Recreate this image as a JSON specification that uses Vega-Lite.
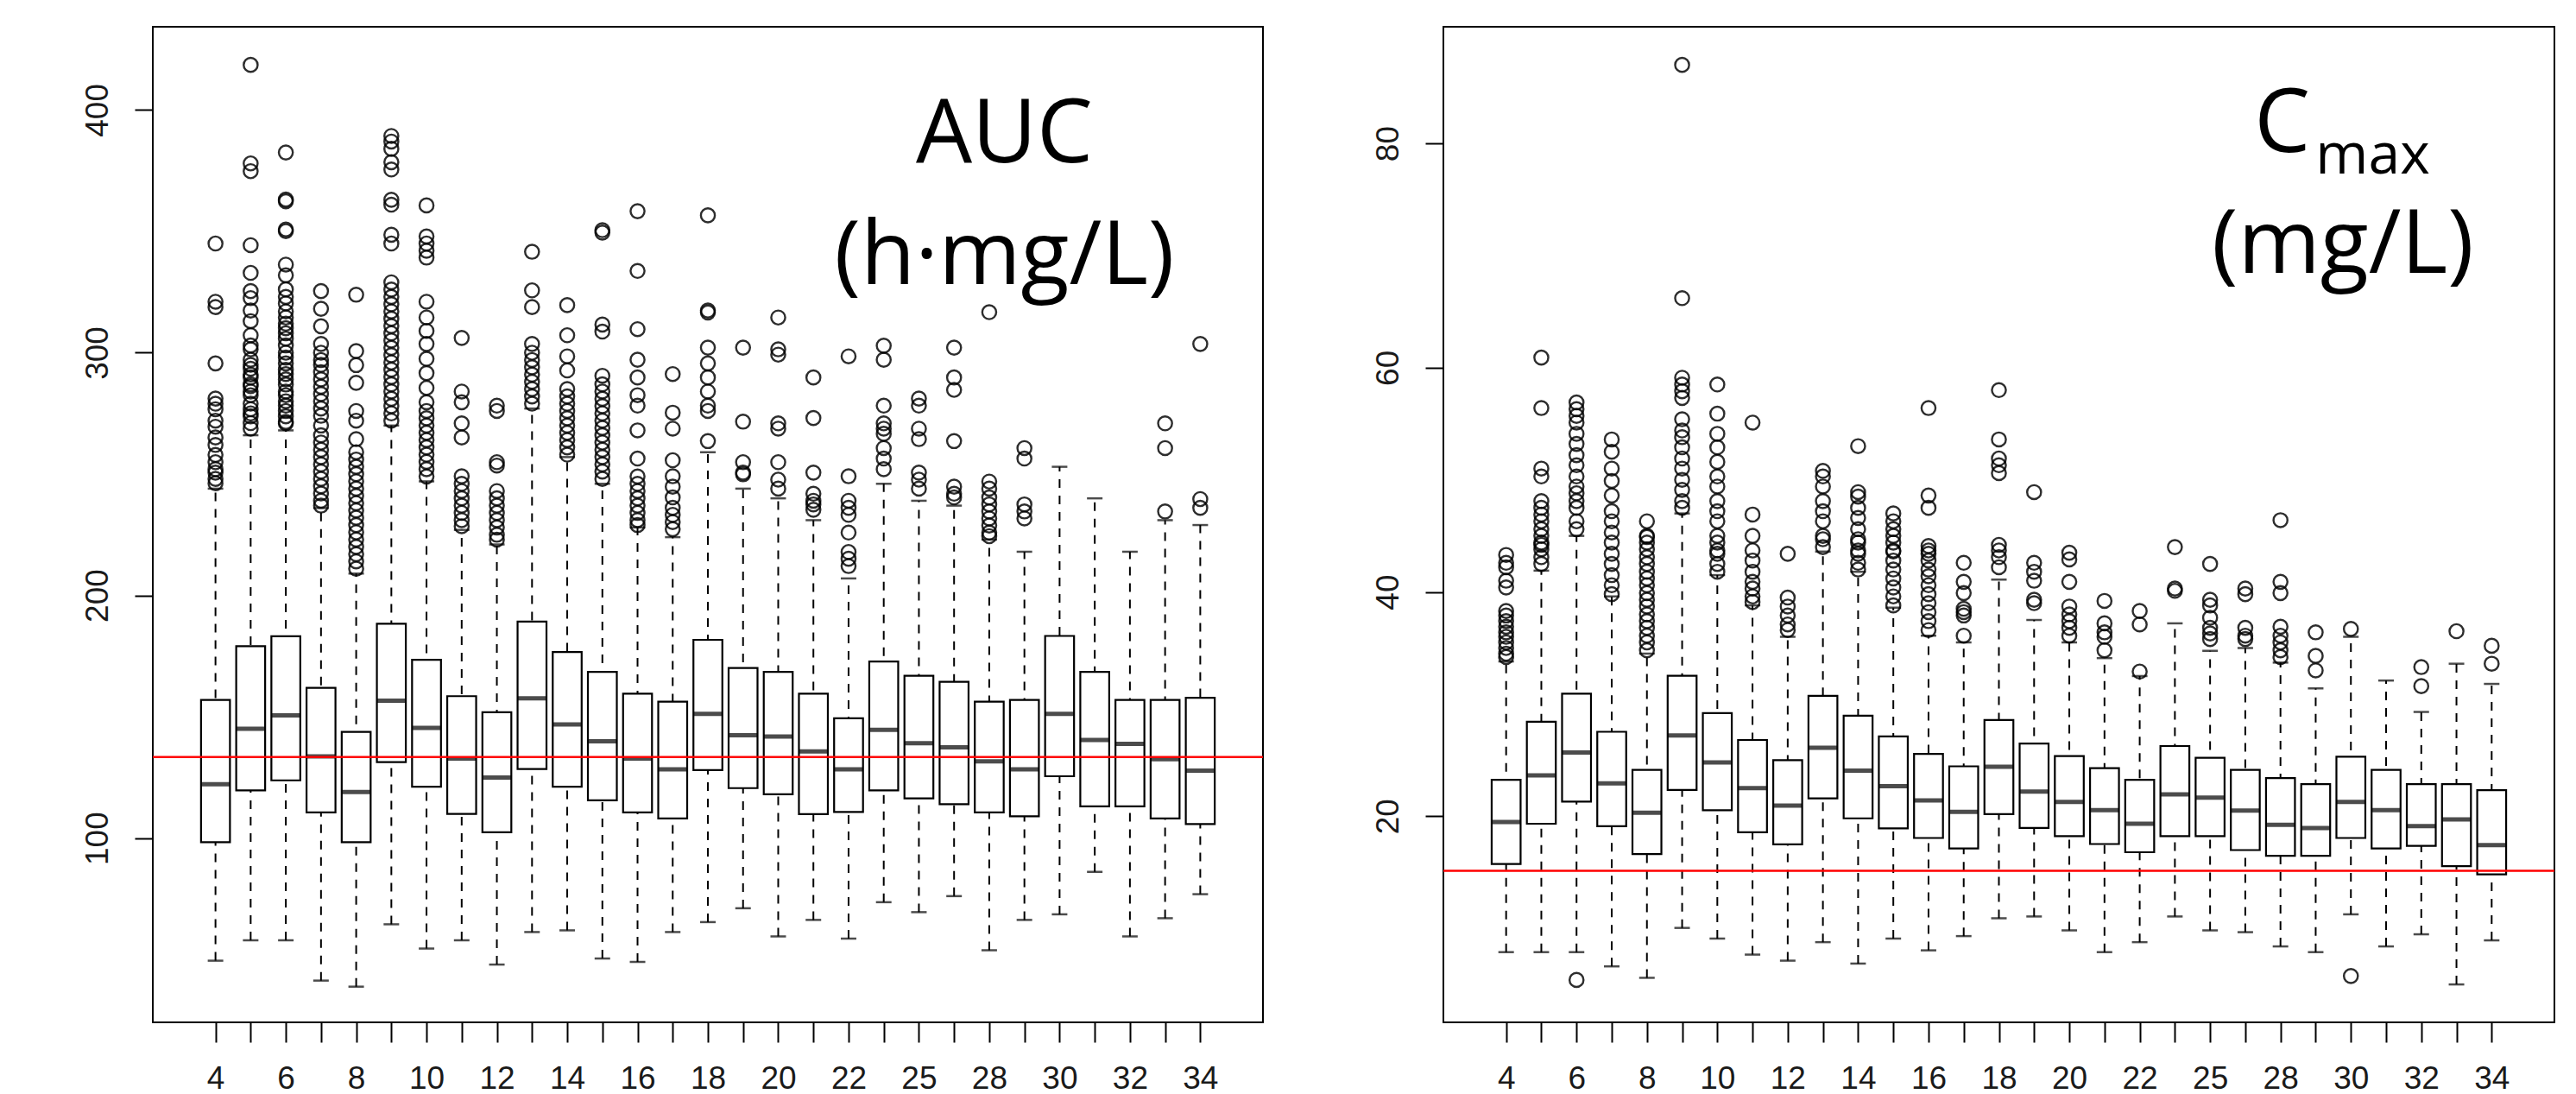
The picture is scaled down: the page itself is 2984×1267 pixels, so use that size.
{
  "$schema": "https://vega.github.io/schema/vega-lite/v6.json",
  "background": "white",
  "padding": {"left": 92, "top": 30, "right": 0, "bottom": 0},
  "bounds": "flush",
  "spacing": 209,
  "config": {
    "view": {"stroke": "black", "strokeWidth": 2},
    "axis": {"title": null, "grid": false, "domain": false, "tickColor": "black", "tickWidth": 2, "labelFont": "Liberation Sans", "labelFontSize": 37, "labelColor": "#1a1a1a"}
  },
  "datasets": {
    "auc_box": [
      {"i":1,"g":"4","lw":49.5,"q1":98.3,"med":122.2,"q3":156.9,"uw":244},
      {"i":2,"g":"5","lw":57.9,"q1":119.7,"med":145.1,"q3":179.1,"uw":266},
      {"i":3,"g":"6","lw":57.9,"q1":123.8,"med":150.6,"q3":183.2,"uw":268},
      {"i":4,"g":"7","lw":41.3,"q1":110.6,"med":133.7,"q3":161.9,"uw":236},
      {"i":5,"g":"8","lw":38.8,"q1":98.3,"med":119.0,"q3":143.8,"uw":209},
      {"i":6,"g":"9","lw":64.5,"q1":131.3,"med":156.6,"q3":188.3,"uw":270},
      {"i":7,"g":"10","lw":54.5,"q1":121.2,"med":145.4,"q3":173.5,"uw":247},
      {"i":8,"g":"11","lw":57.9,"q1":110.0,"med":132.8,"q3":158.5,"uw":227},
      {"i":9,"g":"12","lw":47.9,"q1":102.4,"med":125.0,"q3":151.9,"uw":221},
      {"i":10,"g":"13","lw":61.3,"q1":128.5,"med":157.6,"q3":189.2,"uw":277},
      {"i":11,"g":"14","lw":62.0,"q1":121.2,"med":146.8,"q3":176.7,"uw":257},
      {"i":12,"g":"15","lw":50.4,"q1":115.6,"med":139.9,"q3":168.5,"uw":246},
      {"i":13,"g":"16","lw":49.0,"q1":110.6,"med":132.8,"q3":159.5,"uw":228},
      {"i":14,"g":"17","lw":61.3,"q1":108.1,"med":128.3,"q3":156.2,"uw":224},
      {"i":15,"g":"18","lw":65.4,"q1":128.0,"med":151.2,"q3":181.7,"uw":259},
      {"i":16,"g":"19","lw":71.1,"q1":120.6,"med":142.4,"q3":170.1,"uw":244},
      {"i":17,"g":"20","lw":59.5,"q1":118.1,"med":141.9,"q3":168.5,"uw":240},
      {"i":18,"g":"21","lw":66.3,"q1":109.9,"med":135.7,"q3":159.5,"uw":231},
      {"i":19,"g":"22","lw":58.6,"q1":110.8,"med":128.3,"q3":149.4,"uw":207},
      {"i":20,"g":"24","lw":73.6,"q1":119.7,"med":144.6,"q3":172.8,"uw":246},
      {"i":21,"g":"25","lw":69.5,"q1":116.4,"med":139.1,"q3":166.9,"uw":239},
      {"i":22,"g":"26","lw":76.1,"q1":114.0,"med":137.4,"q3":164.4,"uw":237},
      {"i":23,"g":"28","lw":53.8,"q1":110.6,"med":131.6,"q3":156.2,"uw":223},
      {"i":24,"g":"29","lw":66.3,"q1":109.0,"med":128.3,"q3":156.9,"uw":218},
      {"i":25,"g":"30","lw":68.6,"q1":125.5,"med":151.2,"q3":183.3,"uw":253},
      {"i":26,"g":"31","lw":86.1,"q1":113.1,"med":140.4,"q3":168.5,"uw":240},
      {"i":27,"g":"32","lw":59.5,"q1":113.1,"med":138.8,"q3":156.9,"uw":218},
      {"i":28,"g":"33","lw":67.0,"q1":108.1,"med":132.5,"q3":156.9,"uw":231},
      {"i":29,"g":"34","lw":76.9,"q1":105.8,"med":127.8,"q3":157.8,"uw":229}
    ],
    "auc_out": [
      {"i":1,"v":345},{"i":1,"v":321},{"i":1,"v":318.8},{"i":1,"v":295.6},{"i":1,"v":281.1},{"i":1,"v":279},{"i":1,"v":276.7},{"i":1,"v":272},{"i":1,"v":269.5},{"i":1,"v":265.1},{"i":1,"v":262},{"i":1,"v":257.9},{"i":1,"v":254.9},{"i":1,"v":252},{"i":1,"v":250.6},{"i":1,"v":248},{"i":1,"v":246.2},
      {"i":2,"v":418.6},{"i":2,"v":378},{"i":2,"v":374.8},{"i":2,"v":344.3},{"i":2,"v":332.9},{"i":2,"v":325.4},{"i":2,"v":322.5},{"i":2,"v":317.4},{"i":2,"v":313},{"i":2,"v":307.2},{"i":2,"v":303},{"i":2,"v":301.4},{"i":2,"v":297.1},{"i":2,"v":295},{"i":2,"v":293.4},{"i":2,"v":291},{"i":2,"v":289.8},{"i":2,"v":287},{"i":2,"v":286.2},{"i":2,"v":284},{"i":2,"v":282.5},{"i":2,"v":279},{"i":2,"v":276.7},{"i":2,"v":275},{"i":2,"v":273.8},{"i":2,"v":271},{"i":2,"v":268.7},
      {"i":3,"v":382.5},{"i":3,"v":363.1},{"i":3,"v":362.4},{"i":3,"v":350.8},{"i":3,"v":350.1},{"i":3,"v":336.3},{"i":3,"v":331.9},{"i":3,"v":326.1},{"i":3,"v":323},{"i":3,"v":320.3},{"i":3,"v":317},{"i":3,"v":314.5},{"i":3,"v":312},{"i":3,"v":310.1},{"i":3,"v":308},{"i":3,"v":305.8},{"i":3,"v":303},{"i":3,"v":300},{"i":3,"v":298},{"i":3,"v":295.6},{"i":3,"v":293},{"i":3,"v":291.2},{"i":3,"v":289},{"i":3,"v":286.9},{"i":3,"v":284},{"i":3,"v":282.5},{"i":3,"v":280},{"i":3,"v":278.2},{"i":3,"v":276},{"i":3,"v":273.8},{"i":3,"v":271.5},{"i":3,"v":270.9},
      {"i":4,"v":325.4},{"i":4,"v":318.1},{"i":4,"v":310.9},{"i":4,"v":303.6},{"i":4,"v":300},{"i":4,"v":297},{"i":4,"v":295},{"i":4,"v":292},{"i":4,"v":289},{"i":4,"v":286},{"i":4,"v":283},{"i":4,"v":280},{"i":4,"v":277},{"i":4,"v":274},{"i":4,"v":270},{"i":4,"v":266},{"i":4,"v":263},{"i":4,"v":260},{"i":4,"v":257},{"i":4,"v":254},{"i":4,"v":251},{"i":4,"v":248},{"i":4,"v":245},{"i":4,"v":242},{"i":4,"v":239},{"i":4,"v":237},
      {"i":5,"v":323.9},{"i":5,"v":300.7},{"i":5,"v":294.9},{"i":5,"v":287.6},{"i":5,"v":276},{"i":5,"v":272},{"i":5,"v":264.4},{"i":5,"v":259},{"i":5,"v":256},{"i":5,"v":253},{"i":5,"v":250},{"i":5,"v":247},{"i":5,"v":244},{"i":5,"v":241},{"i":5,"v":238},{"i":5,"v":235},{"i":5,"v":232},{"i":5,"v":229},{"i":5,"v":226},{"i":5,"v":223},{"i":5,"v":220},{"i":5,"v":217},{"i":5,"v":214},{"i":5,"v":211},
      {"i":6,"v":389.3},{"i":6,"v":387},{"i":6,"v":384},{"i":6,"v":378.5},{"i":6,"v":375.5},{"i":6,"v":363},{"i":6,"v":361},{"i":6,"v":348.6},{"i":6,"v":345},{"i":6,"v":329},{"i":6,"v":326},{"i":6,"v":323},{"i":6,"v":320},{"i":6,"v":317},{"i":6,"v":314},{"i":6,"v":311},{"i":6,"v":308},{"i":6,"v":305},{"i":6,"v":302},{"i":6,"v":299},{"i":6,"v":296},{"i":6,"v":293},{"i":6,"v":290},{"i":6,"v":287},{"i":6,"v":284},{"i":6,"v":281},{"i":6,"v":278},{"i":6,"v":275},{"i":6,"v":272},
      {"i":7,"v":360.7},{"i":7,"v":347.9},{"i":7,"v":345},{"i":7,"v":342},{"i":7,"v":339.2},{"i":7,"v":321},{"i":7,"v":314.5},{"i":7,"v":309},{"i":7,"v":303.6},{"i":7,"v":297.5},{"i":7,"v":291.6},{"i":7,"v":285.5},{"i":7,"v":279.6},{"i":7,"v":276},{"i":7,"v":273},{"i":7,"v":270},{"i":7,"v":267},{"i":7,"v":264},{"i":7,"v":261},{"i":7,"v":258},{"i":7,"v":255},{"i":7,"v":252},{"i":7,"v":249},
      {"i":8,"v":306.1},{"i":8,"v":284},{"i":8,"v":279.6},{"i":8,"v":270.9},{"i":8,"v":265.1},{"i":8,"v":249.1},{"i":8,"v":246},{"i":8,"v":243},{"i":8,"v":240},{"i":8,"v":237},{"i":8,"v":234},{"i":8,"v":231},{"i":8,"v":228.5},
      {"i":9,"v":278.2},{"i":9,"v":276},{"i":9,"v":254.9},{"i":9,"v":253.5},{"i":9,"v":243},{"i":9,"v":240},{"i":9,"v":237},{"i":9,"v":234},{"i":9,"v":231},{"i":9,"v":228},{"i":9,"v":225},{"i":9,"v":223},
      {"i":10,"v":341.6},{"i":10,"v":325.7},{"i":10,"v":318.8},{"i":10,"v":303.6},{"i":10,"v":300},{"i":10,"v":297},{"i":10,"v":294},{"i":10,"v":291},{"i":10,"v":288},{"i":10,"v":285},{"i":10,"v":282},{"i":10,"v":279},
      {"i":11,"v":319.6},{"i":11,"v":307.2},{"i":11,"v":298.5},{"i":11,"v":292.7},{"i":11,"v":285},{"i":11,"v":282},{"i":11,"v":279},{"i":11,"v":276},{"i":11,"v":273},{"i":11,"v":270},{"i":11,"v":267},{"i":11,"v":264},{"i":11,"v":261},{"i":11,"v":258},
      {"i":12,"v":350.5},{"i":12,"v":349.5},{"i":12,"v":311.6},{"i":12,"v":308.7},{"i":12,"v":290.5},{"i":12,"v":287},{"i":12,"v":284},{"i":12,"v":281},{"i":12,"v":278},{"i":12,"v":275},{"i":12,"v":272},{"i":12,"v":269},{"i":12,"v":266},{"i":12,"v":263},{"i":12,"v":260},{"i":12,"v":257},{"i":12,"v":254},{"i":12,"v":251},{"i":12,"v":248},
      {"i":13,"v":358.3},{"i":13,"v":333.7},{"i":13,"v":309.7},{"i":13,"v":297.1},{"i":13,"v":289.8},{"i":13,"v":282.5},{"i":13,"v":278.2},{"i":13,"v":268},{"i":13,"v":256.4},{"i":13,"v":249},{"i":13,"v":246},{"i":13,"v":243},{"i":13,"v":240},{"i":13,"v":237},{"i":13,"v":234},{"i":13,"v":231},{"i":13,"v":229},
      {"i":14,"v":291.2},{"i":14,"v":275.3},{"i":14,"v":268.7},{"i":14,"v":255.7},{"i":14,"v":249.1},{"i":14,"v":244.8},{"i":14,"v":240.4},{"i":14,"v":236.1},{"i":14,"v":233.2},{"i":14,"v":230.2},{"i":14,"v":227.3},
      {"i":15,"v":356.6},{"i":15,"v":317.4},{"i":15,"v":316.6},{"i":15,"v":302.1},{"i":15,"v":295.6},{"i":15,"v":289.8},{"i":15,"v":284},{"i":15,"v":278.2},{"i":15,"v":276},{"i":15,"v":263.6},
      {"i":16,"v":302.1},{"i":16,"v":271.6},{"i":16,"v":254.9},{"i":16,"v":250.6},{"i":16,"v":249.9},
      {"i":17,"v":314.5},{"i":17,"v":301.4},{"i":17,"v":299.2},{"i":17,"v":270.9},{"i":17,"v":268.7},{"i":17,"v":254.9},{"i":17,"v":247.7},{"i":17,"v":244},
      {"i":18,"v":289.8},{"i":18,"v":273.1},{"i":18,"v":250.6},{"i":18,"v":241.9},{"i":18,"v":239},{"i":18,"v":237.5},{"i":18,"v":235.3},
      {"i":19,"v":298.5},{"i":19,"v":249.1},{"i":19,"v":239},{"i":19,"v":236.1},{"i":19,"v":233.2},{"i":19,"v":225.9},{"i":19,"v":217.9},{"i":19,"v":215.1},{"i":19,"v":212.1},
      {"i":20,"v":302.9},{"i":20,"v":297.1},{"i":20,"v":278.2},{"i":20,"v":270.9},{"i":20,"v":268.7},{"i":20,"v":266.6},{"i":20,"v":260.7},{"i":20,"v":256.4},{"i":20,"v":252},
      {"i":21,"v":281.1},{"i":21,"v":278.2},{"i":21,"v":268.7},{"i":21,"v":264.4},{"i":21,"v":250.6},{"i":21,"v":247.7},{"i":21,"v":244},
      {"i":22,"v":302.1},{"i":22,"v":289.8},{"i":22,"v":284.7},{"i":22,"v":263.6},{"i":22,"v":244.8},{"i":22,"v":241.9},{"i":22,"v":240.4},
      {"i":23,"v":316.7},{"i":23,"v":246.9},{"i":23,"v":244},{"i":23,"v":240.4},{"i":23,"v":237.5},{"i":23,"v":234.6},{"i":23,"v":231.7},{"i":23,"v":228.8},{"i":23,"v":225.9},{"i":23,"v":224.4},
      {"i":24,"v":260.7},{"i":24,"v":256.4},{"i":24,"v":237.5},{"i":24,"v":234.6},{"i":24,"v":231.7},
      {"i":28,"v":270.9},{"i":28,"v":260.7},{"i":28,"v":234.6},
      {"i":29,"v":303.6},{"i":29,"v":239.7},{"i":29,"v":236.1}
    ],
    "cmax_box": [
      {"i":1,"g":"4","lw":7.88,"q1":15.74,"med":19.49,"q3":23.24,"uw":33.8},
      {"i":2,"g":"5","lw":7.88,"q1":19.33,"med":23.65,"q3":28.42,"uw":41.9},
      {"i":3,"g":"6","lw":7.88,"q1":21.3,"med":25.69,"q3":30.93,"uw":45.0},
      {"i":4,"g":"7","lw":6.61,"q1":19.11,"med":22.92,"q3":27.53,"uw":39.6},
      {"i":5,"g":"8","lw":5.59,"q1":16.63,"med":20.31,"q3":24.13,"uw":34.5},
      {"i":6,"g":"9","lw":10.04,"q1":22.35,"med":27.21,"q3":32.52,"uw":47.0},
      {"i":7,"g":"10","lw":9.09,"q1":20.54,"med":24.8,"q3":29.19,"uw":41.5},
      {"i":8,"g":"11","lw":7.66,"q1":18.57,"med":22.51,"q3":26.8,"uw":38.8},
      {"i":9,"g":"12","lw":7.12,"q1":17.49,"med":20.95,"q3":25.0,"uw":36.0},
      {"i":10,"g":"13","lw":8.77,"q1":21.59,"med":26.1,"q3":30.74,"uw":43.6},
      {"i":11,"g":"14","lw":6.86,"q1":19.81,"med":24.07,"q3":28.96,"uw":41.8},
      {"i":12,"g":"15","lw":9.09,"q1":18.92,"med":22.67,"q3":27.12,"uw":38.6},
      {"i":13,"g":"16","lw":8.04,"q1":18.06,"med":21.4,"q3":25.56,"uw":36.1},
      {"i":14,"g":"17","lw":9.31,"q1":17.13,"med":20.38,"q3":24.45,"uw":35.5},
      {"i":15,"g":"18","lw":10.9,"q1":20.19,"med":24.42,"q3":28.58,"uw":41.1},
      {"i":16,"g":"19","lw":11.06,"q1":18.95,"med":22.19,"q3":26.48,"uw":37.5},
      {"i":17,"g":"20","lw":9.82,"q1":18.22,"med":21.27,"q3":25.37,"uw":35.5},
      {"i":18,"g":"21","lw":7.88,"q1":17.52,"med":20.54,"q3":24.29,"uw":34.1},
      {"i":19,"g":"22","lw":8.77,"q1":16.79,"med":19.33,"q3":23.24,"uw":32.5},
      {"i":20,"g":"24","lw":11.06,"q1":18.22,"med":21.94,"q3":26.26,"uw":37.2},
      {"i":21,"g":"25","lw":9.82,"q1":18.22,"med":21.65,"q3":25.21,"uw":34.75},
      {"i":22,"g":"26","lw":9.66,"q1":16.98,"med":20.51,"q3":24.13,"uw":35.0},
      {"i":23,"g":"28","lw":8.39,"q1":16.47,"med":19.23,"q3":23.4,"uw":33.7},
      {"i":24,"g":"29","lw":7.88,"q1":16.47,"med":18.95,"q3":22.86,"uw":31.4},
      {"i":25,"g":"30","lw":11.25,"q1":18.06,"med":21.27,"q3":25.31,"uw":36.0},
      {"i":26,"g":"31","lw":8.39,"q1":17.13,"med":20.54,"q3":24.13,"uw":32.1},
      {"i":27,"g":"32","lw":9.47,"q1":17.36,"med":19.11,"q3":22.86,"uw":29.3},
      {"i":28,"g":"33","lw":5.0,"q1":15.55,"med":19.71,"q3":22.86,"uw":33.6},
      {"i":29,"g":"34","lw":8.93,"q1":14.81,"med":17.42,"q3":22.32,"uw":31.8}
    ],
    "cmax_out": [
      {"i":1,"v":43.3},{"i":1,"v":42.6},{"i":1,"v":42.2},{"i":1,"v":41},{"i":1,"v":40.4},{"i":1,"v":38.3},{"i":1,"v":37.9},{"i":1,"v":37.4},{"i":1,"v":36.9},{"i":1,"v":36.4},{"i":1,"v":36},{"i":1,"v":35.5},{"i":1,"v":35},{"i":1,"v":34.5},{"i":1,"v":34.2},
      {"i":2,"v":60.9},{"i":2,"v":56.4},{"i":2,"v":51},{"i":2,"v":50.3},{"i":2,"v":48.1},{"i":2,"v":47.5},{"i":2,"v":46.9},{"i":2,"v":46.3},{"i":2,"v":45.6},{"i":2,"v":45},{"i":2,"v":44.4},{"i":2,"v":44.2},{"i":2,"v":43.8},{"i":2,"v":43.1},{"i":2,"v":42.5},
      {"i":3,"v":56.9},{"i":3,"v":56.3},{"i":3,"v":55.7},{"i":3,"v":55.1},{"i":3,"v":54.1},{"i":3,"v":53.2},{"i":3,"v":52.2},{"i":3,"v":51.3},{"i":3,"v":50.3},{"i":3,"v":49.4},{"i":3,"v":48.8},{"i":3,"v":48.1},{"i":3,"v":47.5},{"i":3,"v":46.3},{"i":3,"v":45.6},{"i":3,"v":5.4},
      {"i":4,"v":53.6},{"i":4,"v":52.5},{"i":4,"v":51},{"i":4,"v":49.9},{"i":4,"v":48.6},{"i":4,"v":47.2},{"i":4,"v":46.3},{"i":4,"v":45.3},{"i":4,"v":44.4},{"i":4,"v":43.4},{"i":4,"v":42.5},{"i":4,"v":41.5},{"i":4,"v":40.6},{"i":4,"v":39.8},
      {"i":5,"v":46.3},{"i":5,"v":45},{"i":5,"v":44.9},{"i":5,"v":44.4},{"i":5,"v":43.8},{"i":5,"v":43.1},{"i":5,"v":42.5},{"i":5,"v":41.8},{"i":5,"v":41.2},{"i":5,"v":40.6},{"i":5,"v":39.9},{"i":5,"v":39.3},{"i":5,"v":38.7},{"i":5,"v":38},{"i":5,"v":37.4},{"i":5,"v":36.8},{"i":5,"v":36.1},{"i":5,"v":35.5},{"i":5,"v":34.8},
      {"i":6,"v":87},{"i":6,"v":66.2},{"i":6,"v":59.1},{"i":6,"v":58.5},{"i":6,"v":57.9},{"i":6,"v":57.3},{"i":6,"v":55.4},{"i":6,"v":54.4},{"i":6,"v":53.8},{"i":6,"v":52.9},{"i":6,"v":51.9},{"i":6,"v":51},{"i":6,"v":50},{"i":6,"v":49.1},{"i":6,"v":48.1},{"i":6,"v":47.5},
      {"i":7,"v":58.5},{"i":7,"v":55.9},{"i":7,"v":54.1},{"i":7,"v":52.9},{"i":7,"v":51.6},{"i":7,"v":50.3},{"i":7,"v":49.4},{"i":7,"v":48.1},{"i":7,"v":47.2},{"i":7,"v":46.3},{"i":7,"v":45},{"i":7,"v":44.4},{"i":7,"v":43.7},{"i":7,"v":43.4},{"i":7,"v":42.5},{"i":7,"v":41.8},
      {"i":8,"v":55.1},{"i":8,"v":46.9},{"i":8,"v":45},{"i":8,"v":43.7},{"i":8,"v":42.8},{"i":8,"v":41.8},{"i":8,"v":40.9},{"i":8,"v":40.3},{"i":8,"v":39.6},{"i":8,"v":39.1},
      {"i":9,"v":43.4},{"i":9,"v":39.5},{"i":9,"v":38.7},{"i":9,"v":37.9},{"i":9,"v":37.1},{"i":9,"v":36.6},
      {"i":10,"v":50.8},{"i":10,"v":50.3},{"i":10,"v":49.4},{"i":10,"v":48.1},{"i":10,"v":47.2},{"i":10,"v":46.3},{"i":10,"v":45},{"i":10,"v":44.7},{"i":10,"v":44},
      {"i":11,"v":53},{"i":11,"v":48.9},{"i":11,"v":48.5},{"i":11,"v":47.5},{"i":11,"v":46.6},{"i":11,"v":45.6},{"i":11,"v":44.7},{"i":11,"v":44.4},{"i":11,"v":43.7},{"i":11,"v":43.4},{"i":11,"v":42.6},{"i":11,"v":42},
      {"i":12,"v":47},{"i":12,"v":46.3},{"i":12,"v":45.6},{"i":12,"v":45},{"i":12,"v":44.4},{"i":12,"v":43.7},{"i":12,"v":43.6},{"i":12,"v":42.8},{"i":12,"v":42},{"i":12,"v":41.2},{"i":12,"v":40.4},{"i":12,"v":39.6},{"i":12,"v":38.8},
      {"i":13,"v":56.4},{"i":13,"v":48.6},{"i":13,"v":47.5},{"i":13,"v":44.1},{"i":13,"v":43.7},{"i":13,"v":43.4},{"i":13,"v":42.8},{"i":13,"v":42},{"i":13,"v":41.4},{"i":13,"v":40.6},{"i":13,"v":39.8},{"i":13,"v":39},{"i":13,"v":38.2},{"i":13,"v":37.4},{"i":13,"v":36.6},
      {"i":14,"v":42.6},{"i":14,"v":40.9},{"i":14,"v":39.9},{"i":14,"v":38.5},{"i":14,"v":38.2},{"i":14,"v":37.9},{"i":14,"v":36.1},
      {"i":15,"v":58},{"i":15,"v":53.6},{"i":15,"v":51.9},{"i":15,"v":51.3},{"i":15,"v":50.6},{"i":15,"v":44.2},{"i":15,"v":43.7},{"i":15,"v":43.1},{"i":15,"v":42.2},
      {"i":16,"v":48.9},{"i":16,"v":42.6},{"i":16,"v":41.8},{"i":16,"v":41},{"i":16,"v":39.3},{"i":16,"v":39},
      {"i":17,"v":43.5},{"i":17,"v":42.9},{"i":17,"v":40.9},{"i":17,"v":38.7},{"i":17,"v":38},{"i":17,"v":37.4},{"i":17,"v":36.8},{"i":17,"v":36.1},
      {"i":18,"v":39.2},{"i":18,"v":37.2},{"i":18,"v":36.4},{"i":18,"v":36},{"i":18,"v":34.8},
      {"i":19,"v":38.3},{"i":19,"v":37.1},{"i":19,"v":32.9},
      {"i":20,"v":44},{"i":20,"v":40.3},{"i":20,"v":40.1},
      {"i":21,"v":42.5},{"i":21,"v":39.3},{"i":21,"v":38.8},{"i":21,"v":37.7},{"i":21,"v":36.8},{"i":21,"v":36.3},{"i":21,"v":35.8},
      {"i":22,"v":40.3},{"i":22,"v":39.8},{"i":22,"v":36.8},{"i":22,"v":36.1},{"i":22,"v":35.8},
      {"i":23,"v":46.4},{"i":23,"v":40.9},{"i":23,"v":39.9},{"i":23,"v":36.9},{"i":23,"v":36.1},{"i":23,"v":35.5},{"i":23,"v":34.8},{"i":23,"v":34.2},
      {"i":24,"v":36.4},{"i":24,"v":34.3},{"i":24,"v":33},
      {"i":25,"v":36.7},{"i":25,"v":5.75},
      {"i":27,"v":33.3},{"i":27,"v":31.6},
      {"i":28,"v":36.5},
      {"i":29,"v":35.2},{"i":29,"v":33.6}
    ]
  },
  "hconcat": [
    {
      "width": 1286, "height": 1153,
      "layer": [
        {"data": {"name": "auc_box"}, "mark": {"type": "rule", "strokeDash": [10, 9], "strokeWidth": 2, "color": "black"},
         "encoding": {
           "x": {"field": "i", "type": "quantitative", "scale": {"domain": [-0.66, 30.66], "nice": false, "zero": false},
                 "axis": {"values": [1,2,3,4,5,6,7,8,9,10,11,12,13,14,15,16,17,18,19,20,21,22,23,24,25,26,27,28,29], "labelExpr": "datum.value % 2 == 1 ? ['4','5','6','7','8','9','10','11','12','13','14','15','16','17','18','19','20','21','22','24','25','26','28','29','30','31','32','33','34'][datum.value - 1] : ''", "tickSize": 23, "labelPadding": 24, "labelOverlap": false, "labelFlush": false, "labelBound": false}},
           "y": {"field": "lw", "type": "quantitative", "scale": {"domain": [24.1, 434.3], "nice": false, "zero": false},
                 "axis": {"values": [100, 200, 300, 400], "labelAngle": 270, "labelAlign": "center", "labelBaseline": "bottom", "tickSize": 21, "labelPadding": 24}},
           "y2": {"field": "uw"}}},
        {"data": {"name": "auc_box"}, "mark": {"type": "tick", "orient": "horizontal", "size": 18, "thickness": 2.5, "color": "black"},
         "encoding": {"x": {"field": "i", "type": "quantitative"}, "y": {"field": "lw", "type": "quantitative"}}},
        {"data": {"name": "auc_box"}, "mark": {"type": "tick", "orient": "horizontal", "size": 18, "thickness": 2.5, "color": "black"},
         "encoding": {"x": {"field": "i", "type": "quantitative"}, "y": {"field": "uw", "type": "quantitative"}}},
        {"data": {"name": "auc_box"}, "mark": {"type": "bar", "size": 33.5, "fill": "white", "stroke": "black", "strokeWidth": 2.2},
         "encoding": {"x": {"field": "i", "type": "quantitative"}, "y": {"field": "q1", "type": "quantitative"}, "y2": {"field": "q3"}}},
        {"data": {"name": "auc_box"}, "mark": {"type": "tick", "orient": "horizontal", "size": 33.5, "thickness": 5, "color": "black"},
         "encoding": {"x": {"field": "i", "type": "quantitative"}, "y": {"field": "med", "type": "quantitative"}}},
        {"data": {"name": "auc_out"}, "mark": {"type": "point", "shape": "circle", "filled": false, "size": 262, "strokeWidth": 2.4, "color": "black", "opacity": 0.82},
         "encoding": {"x": {"field": "i", "type": "quantitative"}, "y": {"field": "v", "type": "quantitative"}}},
        {"data": {"values": [{}]}, "mark": {"type": "rule", "color": "#ff0000", "strokeWidth": 2.5},
         "encoding": {"y": {"datum": 133.4, "type": "quantitative"}}},
        {"data": {"values": [{}]}, "mark": {"type": "text", "text": "AUC", "font": "Open Sans", "fontSize": 103, "align": "center", "baseline": "alphabetic", "color": "black"},
         "encoding": {"x": {"datum": 23.43, "type": "quantitative"}, "y": {"datum": 378.4, "type": "quantitative"}}},
        {"data": {"values": [{}]}, "mark": {"type": "text", "text": "(h·mg/L)", "font": "Open Sans", "fontSize": 103, "align": "center", "baseline": "alphabetic", "color": "black"},
         "encoding": {"x": {"datum": 23.43, "type": "quantitative"}, "y": {"datum": 328.3, "type": "quantitative"}}}
      ]
    },
    {
      "width": 1287, "height": 1153,
      "layer": [
        {"data": {"name": "cmax_box"}, "mark": {"type": "rule", "strokeDash": [10, 9], "strokeWidth": 2, "color": "black"},
         "encoding": {
           "x": {"field": "i", "type": "quantitative", "scale": {"domain": [-0.66, 30.66], "nice": false, "zero": false},
                 "axis": {"values": [1,2,3,4,5,6,7,8,9,10,11,12,13,14,15,16,17,18,19,20,21,22,23,24,25,26,27,28,29], "labelExpr": "datum.value % 2 == 1 ? ['4','5','6','7','8','9','10','11','12','13','14','15','16','17','18','19','20','21','22','24','25','26','28','29','30','31','32','33','34'][datum.value - 1] : ''", "tickSize": 23, "labelPadding": 24, "labelOverlap": false, "labelFlush": false, "labelBound": false}},
           "y": {"field": "lw", "type": "quantitative", "scale": {"domain": [1.62, 90.4], "nice": false, "zero": false},
                 "axis": {"values": [20, 40, 60, 80], "labelAngle": 270, "labelAlign": "center", "labelBaseline": "bottom", "tickSize": 21, "labelPadding": 24}},
           "y2": {"field": "uw"}}},
        {"data": {"name": "cmax_box"}, "mark": {"type": "tick", "orient": "horizontal", "size": 18, "thickness": 2.5, "color": "black"},
         "encoding": {"x": {"field": "i", "type": "quantitative"}, "y": {"field": "lw", "type": "quantitative"}}},
        {"data": {"name": "cmax_box"}, "mark": {"type": "tick", "orient": "horizontal", "size": 18, "thickness": 2.5, "color": "black"},
         "encoding": {"x": {"field": "i", "type": "quantitative"}, "y": {"field": "uw", "type": "quantitative"}}},
        {"data": {"name": "cmax_box"}, "mark": {"type": "bar", "size": 33.5, "fill": "white", "stroke": "black", "strokeWidth": 2.2},
         "encoding": {"x": {"field": "i", "type": "quantitative"}, "y": {"field": "q1", "type": "quantitative"}, "y2": {"field": "q3"}}},
        {"data": {"name": "cmax_box"}, "mark": {"type": "tick", "orient": "horizontal", "size": 33.5, "thickness": 5, "color": "black"},
         "encoding": {"x": {"field": "i", "type": "quantitative"}, "y": {"field": "med", "type": "quantitative"}}},
        {"data": {"name": "cmax_out"}, "mark": {"type": "point", "shape": "circle", "filled": false, "size": 262, "strokeWidth": 2.4, "color": "black", "opacity": 0.82},
         "encoding": {"x": {"field": "i", "type": "quantitative"}, "y": {"field": "v", "type": "quantitative"}}},
        {"data": {"values": [{}]}, "mark": {"type": "rule", "color": "#ff0000", "strokeWidth": 2.5},
         "encoding": {"y": {"datum": 15.13, "type": "quantitative"}}},
        {"data": {"values": [{}]}, "mark": {"type": "text", "text": "C", "font": "Open Sans", "fontSize": 103, "align": "center", "baseline": "alphabetic", "color": "black"},
         "encoding": {"x": {"datum": 23.05, "type": "quantitative"}, "y": {"datum": 79.27, "type": "quantitative"}}},
        {"data": {"values": [{}]}, "mark": {"type": "text", "text": "max", "font": "Open Sans", "fontSize": 66, "align": "center", "baseline": "alphabetic", "color": "black"},
         "encoding": {"x": {"datum": 25.62, "type": "quantitative"}, "y": {"datum": 77.3, "type": "quantitative"}}},
        {"data": {"values": [{}]}, "mark": {"type": "text", "text": "(mg/L)", "font": "Open Sans", "fontSize": 103, "align": "center", "baseline": "alphabetic", "color": "black"},
         "encoding": {"x": {"datum": 24.77, "type": "quantitative"}, "y": {"datum": 68.42, "type": "quantitative"}}}
      ]
    }
  ]
}
